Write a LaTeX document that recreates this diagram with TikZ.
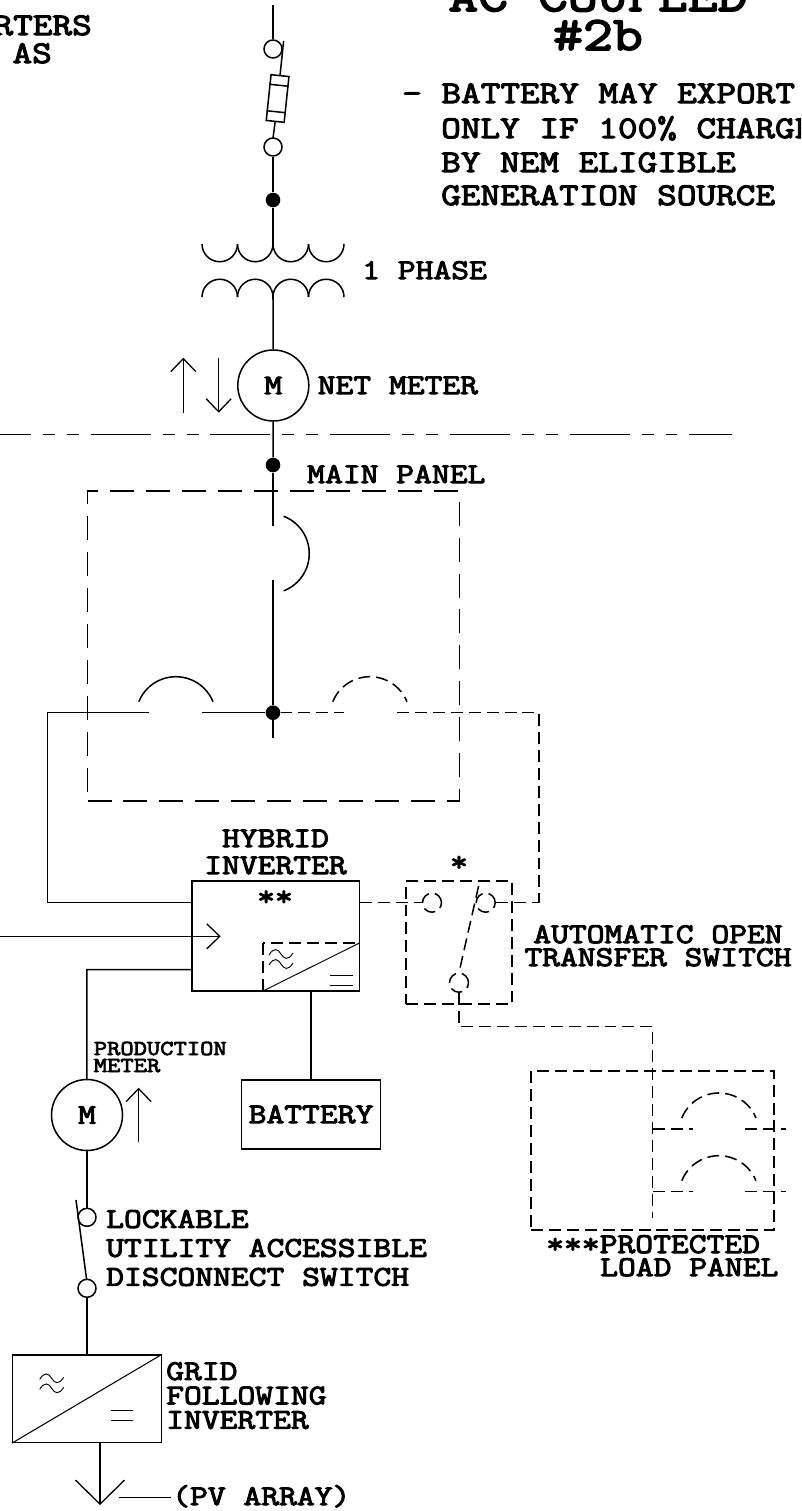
\documentclass[tikz,border=0pt]{standalone}
\usepackage{fontspec}
\usetikzlibrary{arrows.meta,calc}
\newfontfamily\cadfont[FakeStretch=1.21,FakeBold=3.5]{Latin Modern Mono}
\newcommand{\cad}[2]{\cadfont\fontsize{#1pt}{#2pt}\selectfont}
\def\px{0.03cm}
\tikzset{
  wire/.style={line width=1.3pt},
  longdash/.style={wire,dash pattern=on 20.5pt off 10.2pt},
  shortdash/.style={wire,dash pattern=on 10.2pt off 5.1pt},
  gridline/.style={wire,dash pattern=on 51.2pt off 10.2pt on 10.2pt off 10.2pt on 10.2pt off 10.2pt,dash phase=24.75pt},
  term/.style={circle,draw,wire,inner sep=0pt,minimum size=18*\px},
  blackdot/.style={circle,fill=black,inner sep=0pt,minimum size=14.6*\px},
  meter/.style={circle,draw,wire,inner sep=0pt,minimum size=71*\px,font=\cad{24.4}{24}},
  boxed/.style={rectangle,draw,wire,inner sep=0pt},
  lab/.style={anchor=base west,inner sep=0pt,align=left,font=\cad{24.4}{#1}},
  labc/.style={anchor=base,inner sep=0pt,align=center,font=\cad{24.4}{#1}},
  barb/.style={wire,-{Straight Barb[length=13*\px,width=25*\px,line width=1.1pt]}},
  acwave/.pic={
    \foreach \dy in {-5,5}{
      \draw[line width=0.8pt] (-12,\dy+1) .. controls (-7,\dy-7) and (-3,\dy-5) .. (0,\dy) .. controls (3,\dy+5) and (7,\dy+7) .. (12,\dy-1);
    }
  }
}
\begin{document}
\begin{tikzpicture}[x=\px,y=-\px]
\useasboundingbox (0,0) rectangle (801,1511);
\clip (0,0) rectangle (801,1511);
\node (title) [anchor=base,inner sep=0pt,font=\cad{41}{41}] at (598,11) {AC COUPLED};
\node (titleno) [anchor=base,inner sep=0pt,font=\cad{41}{41}] at (598,50) {\#2b};
\node (corner) [anchor=base east,inner sep=0pt,font=\cad{26.9}{24}] at (92,35) {RTERS};
\node (cornerb) [anchor=base east,inner sep=0pt,font=\cad{26.9}{24}] at (52,63) {AS};
\node (notea) [anchor=base west,inner sep=0pt,font=\cad{26.9}{24}] at (402,103) {- BATTERY MAY EXPORT};
\node (noteb) [anchor=base west,inner sep=0pt,font=\cad{26.9}{24}] at (441,138) {ONLY IF 100\% CHARGED};
\node (notec) [anchor=base west,inner sep=0pt,font=\cad{26.9}{24}] at (441,172) {BY NEM ELIGIBLE};
\node (noted) [anchor=base west,inner sep=0pt,font=\cad{26.9}{24}] at (441,205) {GENERATION SOURCE};
\coordinate (svctop) at (273,5);
\node (svca) [term] at (273,49) {};
\node (svcb) [term] at (273,147) {};
\node (svcdot) [blackdot] at (273,200) {};
\draw[wire] (svctop) -- (svca);
\draw[wire] (svcb) -- (svcdot);
\coordinate (bladetop) at (283.6,41);
\coordinate (bladeend) at (273,138);
\node (fuse) [boxed,rotate=-6,minimum width=18*\px,minimum height=46*\px] at (277.6,98.5) {};
\draw[wire] (bladetop) -- (fuse.north);
\draw[wire] (fuse.south) -- (bladeend);
\draw[wire] ($(fuse.north west)!0.22!(fuse.south west)$) -- ($(fuse.north east)!0.22!(fuse.south east)$);
\draw[wire] ($(fuse.north west)!0.78!(fuse.south west)$) -- ($(fuse.north east)!0.78!(fuse.south east)$);
\coordinate (xfmrup) at (273,244);
\coordinate (xfmrdn) at (273,297);
\draw[wire] (svcdot) -- (xfmrup);
\foreach\x in {202,237.5,273,308.5}{
 \draw[wire] (\x,244) arc (180:0:17.75);
 \draw[wire] (\x,297) arc (-180:0:17.75);
}
\node (phase) [lab=24] at (362,279) {1 PHASE};
\node (netm) [meter] at (273.3,385.5) {M};
\draw[wire] (xfmrdn) -- (netm);
\node (netlab) [lab=24] at (317.5,394) {NET METER};
\coordinate (upa) at (183.3,412.7);
\coordinate (upb) at (183.3,357.7);
\coordinate (dna) at (218.7,358.3);
\coordinate (dnb) at (218.7,412.7);
\draw[barb] (upa) -- (upb);
\draw[barb] (dna) -- (dnb);
\coordinate (gridl) at (0,434.7);
\coordinate (gridr) at (732,434.7);
\draw[gridline] (gridl) -- (gridr);
\node (maindot) [blackdot] at (273,465) {};
\coordinate (mainbrk) at (273,526);
\draw[wire] (netm) -- (maindot);
\draw[wire] (maindot) -- (mainbrk);
\node (mainlab) [lab=24] at (307,483) {MAIN PANEL};
\node (mainpanel) [boxed,longdash,minimum width=372*\px,minimum height=310*\px] at (273.5,646) {};
\draw[wire] (283.6,516.2) arc (-69:69:40);
\node (busdot) [blackdot] at (273,712.7) {};
\coordinate (brkend) at (273,580);
\coordinate (bustail) at (273,738);
\draw[wire] (brkend) -- (busdot);
\draw[wire] (busdot) -- (bustail);
\draw[wire] (138.8,701.7) arc (-158:-22:40);
\draw[shortdash] (332.8,701.7) arc (-158:-22:40);
\coordinate (feedb) at (202.4,712.7);
\coordinate (feeda) at (149,712.7);
\coordinate (feedc) at (47.6,712.7);
\coordinate (feedd) at (47.6,902.7);
\coordinate (loada) at (344.4,712.7);
\coordinate (loadb) at (397,712.7);
\coordinate (loadc) at (539,712.7);
\coordinate (loadd) at (539,902.7);
\draw[wire] (feedb) -- (busdot);
\draw[shortdash] (busdot) -- (loada);
\draw[shortdash] (loadb) -- (loadc) -- (loadd);
\node (hyblab) [labc=23] at (275.5,874) {HYBRID\\INVERTER};
\draw[shortdash] (263,943) rectangle (359.5,991);
\node (hybrid) [boxed,minimum width=167.6*\px,minimum height=110.3*\px] at (275.7,936) {};
\draw[wire] (feeda) -- (feedc) -- (feedd) -- (hybrid.west |- feedd);
\node (stars) [labc=24] at (275,905.5) {**};
\draw[line width=0.8pt] (263,991) -- (359.5,943);
\pic at (281,959) {acwave};
\draw[line width=0.8pt] (330,975) -- (353,975);
\draw[line width=0.8pt] (330,985) -- (353,985);
\coordinate (pvin) at (0,936.3);
\coordinate (pvtip) at (220.7,936.3);
\draw[barb] (pvin) -- (pvtip);
\node (aots) [boxed,shortdash,minimum width=106*\px,minimum height=123*\px] at (459,942.5) {};
\node (aotsstar) [labc=24] at (459,871) {*};
\node (conta) [term,shortdash,minimum size=19*\px] at (432,902.7) {};
\node (contb) [term,shortdash,minimum size=19*\px] at (485.7,902.7) {};
\node (contc) [term,shortdash,minimum size=19*\px] at (459,982.7) {};
\coordinate (aotsblade) at (478.6,886);
\coordinate (aotsout) at (459,1026.7);
\coordinate (aotsturn) at (652.7,1026.7);
\coordinate (plpend) at (652.7,1218);
\draw[shortdash] (hybrid.east |- conta) -- (conta);
\draw[shortdash] (contb) -- (loadd);
\draw[shortdash] (aotsblade) -- (contc.north);
\draw[shortdash] (contc) -- (aotsout) -- (aotsturn) -- (plpend);
\node (aotslab) [labc=19.6] at (658,966) {AUTOMATIC OPEN\\TRANSFER SWITCH};
\node (plpanel) [boxed,shortdash,minimum width=243*\px,minimum height=159*\px] at (652.5,1150.5) {};
\foreach\y in {1129,1191.7}{
 \draw[shortdash] (652.7,\y) -- (692.7,\y);
 \draw[shortdash] (745,\y) -- (786,\y);
 \draw[shortdash] (681.8,\y-11) arc (-158:-22:40);
}
\node (plplab) [anchor=base west,inner sep=0pt,font=\cad{24.4}{19.6}] at (546,1253) {***PROTECTED};
\node (plplabb) [anchor=base west,inner sep=0pt,font=\cad{24.4}{19.6}] at (600,1276) {LOAD PANEL};
\node (prodlab) [anchor=base west,inner sep=0pt,align=left,font=\cad{18.2}{14.5}] at (93.6,1072) {PRODUCTION\\METER};
\node (prodm) [meter] at (87,1115) {M};
\coordinate (prodc) at (86.8,969.7);
\draw[wire] (hybrid.west |- prodc) -- (prodc) -- (prodm);
\coordinate (proda) at (138.6,1141.7);
\coordinate (prodb) at (138.6,1087.7);
\draw[barb] (proda) -- (prodb);
\node (batt) [boxed,minimum width=139*\px,minimum height=68.7*\px,font=\cad{24.4}{24}] at (311,1114.4) {BATTERY};
\draw[wire] (batt.north) -- (batt.north |- hybrid.south);
\node (disca) [term] at (87,1217.3) {};
\node (discb) [term] at (87,1288.3) {};
\coordinate (discblade) at (76,1200);
\coordinate (discend) at (86.7,1280);
\draw[wire] (prodm) -- (disca);
\draw[wire] (discblade) -- (discend);
\node (disclab) [lab=24.7] at (106,1285.7) {LOCKABLE\\UTILITY ACCESSIBLE\\DISCONNECT SWITCH};
\node (gfi) [boxed,minimum width=148.6*\px,minimum height=87.3*\px] at (87,1398.7) {};
\draw[wire] (discb) -- (discb |- gfi.north);
\draw[line width=0.9pt] (gfi.south west) -- (gfi.north east);
\pic at (51.7,1383.3) {acwave};
\draw[line width=0.8pt] (110.7,1410) -- (133.3,1410);
\draw[line width=0.8pt] (110.7,1420.7) -- (133.3,1420.7);
\node (gfilab) [lab=20.8] at (166,1428.7) {GRID\\FOLLOWING\\INVERTER};
\coordinate (gfiout) at (100,1442.3);
\coordinate (pvtipb) at (100,1505);
\draw[wire,-{Straight Barb[length=24*\px,width=49*\px,line width=1.1pt]}] (gfiout) -- (pvtipb);
\coordinate (pvlead) at (119.3,1497.3);
\coordinate (pvleadb) at (170.7,1497.3);
\node (pvlab) [anchor=base west,inner sep=0pt,font=\cad{24.4}{24}] at (172,1505) {(PV ARRAY)};
\draw[wire] (pvlead) -- (pvleadb);
\end{tikzpicture}
\end{document}
